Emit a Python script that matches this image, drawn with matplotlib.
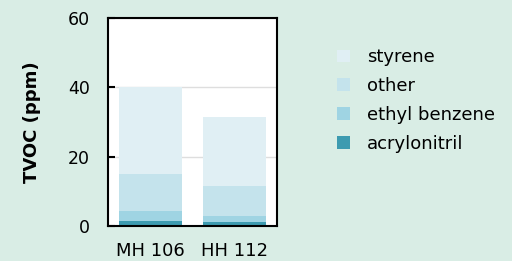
import matplotlib
matplotlib.use("Agg")
import matplotlib.pyplot as plt
import numpy as np

categories = ["MH 106", "HH 112"]
series = ["acrylonitril", "ethyl benzene", "other", "styrene"]
acrylonitril = [1.5, 1.2]
ethyl_benzene = [2.8, 1.8]
other = [10.7, 8.5]
styrene = [25.0, 19.9]

colors = ["#3d9bb0", "#9fd4e3", "#c4e3ec", "#e0eff4"]
bg = "#d9ede5"

plt.rcParams['font.family'] = ['DejaVu Sans']
fig = plt.figure(figsize=(5.12, 2.61), dpi=100, facecolor=bg)
ax = fig.add_axes([108/512, 1 - 226/261, 169/512, 208/261])
ax.set_facecolor("white")

x = np.arange(len(categories))
bottom = np.zeros(len(categories))
for name, vals, c in zip(series, [acrylonitril, ethyl_benzene, other, styrene], colors):
    ax.bar(x, vals, width=0.74, bottom=bottom, color=c, label=name, zorder=2)
    bottom += np.array(vals)

ax.set_xlim(-0.5, 1.5)
ax.set_ylim(0, 60)
ax.set_yticks([0, 20, 40, 60])
ax.set_xticks(x)
ax.set_xticklabels(categories)
ax.yaxis.grid(True, color="#dedede", lw=1, zorder=0)
ax.tick_params(axis="y", direction="in", length=5, width=1.5, labelsize=12.5, pad=13)
ax.tick_params(axis="x", length=0, labelsize=13, pad=11.5)
for s in ax.spines.values():
    s.set_linewidth(1.5)
    s.set_color("black")
ax.set_ylabel("TVOC (ppm)", fontweight="bold", fontsize=13, labelpad=19)

h, l = ax.get_legend_handles_labels()
fig.legend(h[::-1], l[::-1], loc="upper left", bbox_to_anchor=(321/512, 1 - 32/261),
           frameon=False, fontsize=13, handlelength=0.7, handleheight=0.7,
           labelspacing=0.6, handletextpad=0.95)

fig.savefig("out.png", dpi=100, facecolor=bg)
